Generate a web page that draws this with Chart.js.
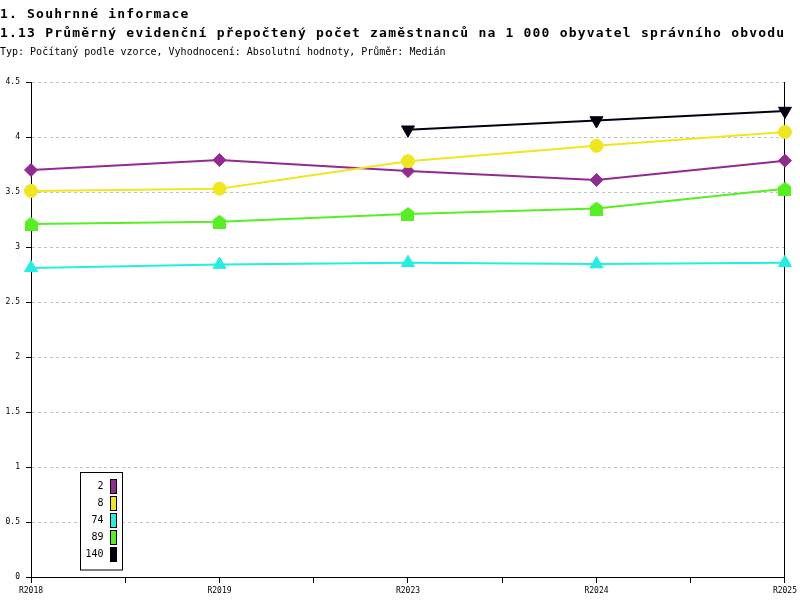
<!DOCTYPE html>
<html><head><meta charset="utf-8">
<script src="https://cdn.jsdelivr.net/npm/chart.js@4.4.1/dist/chart.umd.min.js"></script>
<style>html,body{margin:0;padding:0;background:#fff}#wrap{width:800px;height:600px;position:relative}</style>
</head><body><div id="wrap"><canvas id="c" width="800" height="600"></canvas></div>
<script>
const titleLines = ['1. Souhrnné informace', '1.13 Průměrný evidenční přepočtený počet zaměstnanců na 1 000 obyvatel správního obvodu'];
const subtitleText = 'Typ: Počítaný podle vzorce, Vyhodnocení: Absolutní hodnoty, Průměr: Medián';
const categories = ['R2018', 'R2019', 'R2023', 'R2024', 'R2025'];
const seriesLabels = ['2', '8', '74', '89', '140'];
const values2 = [3.70, 3.79, 3.69, 3.61, 3.785];
const values8 = [3.51, 3.53, 3.78, 3.92, 4.045];
const values74 = [2.81, 2.84, 2.857, 2.845, 2.857];
const values89 = [3.21, 3.23, 3.30, 3.35, 3.53];
const values140 = [null, null, 4.066, 4.15, 4.236];
const seriesColors = ['#912a91', '#f0e61e', '#22eee2', '#55ef22', '#000010'];

function houseMarker(color) {
  const c = document.createElement('canvas');
  c.width = 13; c.height = 14;
  const g = c.getContext('2d');
  g.fillStyle = color;
  g.beginPath();
  g.moveTo(6.5, 0); g.lineTo(13, 5); g.lineTo(13, 14); g.lineTo(0, 14); g.lineTo(0, 5); g.closePath();
  g.fill();
  return c;
}

const allValues = [values2, values8, values74, values89, values140];
const pointStyles = ['rectRot', 'circle', 'triangle', houseMarker(seriesColors[3]), 'triangle'];
const rotations = [0, 0, 0, 0, 180];
const radii = [6.5, 6.5, 7.5, 6.5, 7.5];

const datasets = allValues.map((vals, i) => ({
  label: seriesLabels[i],
  data: vals.map((v, j) => ({ x: j, y: v })),
  borderColor: seriesColors[i],
  backgroundColor: seriesColors[i],
  pointBackgroundColor: seriesColors[i],
  pointBorderColor: seriesColors[i],
  pointBorderWidth: 1,
  borderWidth: 2,
  tension: 0,
  pointStyle: pointStyles[i],
  pointRotation: rotations[i],
  pointRadius: radii[i],
  pointHoverRadius: radii[i],
  clip: false,
  order: -i
}));

const overlay = {
  id: 'overlay',
  afterDraw(chart) {
    const ctx = chart.ctx;
    ctx.save();
    ctx.fillStyle = '#000';
    ctx.textAlign = 'left';
    ctx.textBaseline = 'alphabetic';
    ctx.font = 'bold 13px "DejaVu Sans Mono"';
    if ('letterSpacing' in ctx) ctx.letterSpacing = '1.2px';
    ctx.fillText(titleLines[0], 0, 18);
    ctx.fillText(titleLines[1], 0, 37);
    if ('letterSpacing' in ctx) ctx.letterSpacing = '0px';
    ctx.font = '10px "DejaVu Sans Mono"';
    ctx.fillText(subtitleText, 0, 55);

    // legend box
    ctx.fillStyle = '#fff';
    ctx.fillRect(80.5, 472.5, 42, 97.5);
    ctx.strokeStyle = '#000';
    ctx.lineWidth = 1;
    ctx.strokeRect(80.5, 472.5, 42, 97.5);
    ctx.font = '10px "DejaVu Sans Mono"';
    ctx.textAlign = 'right';
    ctx.textBaseline = 'middle';
    seriesLabels.forEach((lab, i) => {
      const cy = 486.5 + i * 17;
      ctx.fillStyle = '#000';
      ctx.fillText(lab, 103.5, cy);
      ctx.fillStyle = seriesColors[i];
      ctx.fillRect(110, cy - 7.5, 7, 15);
      ctx.strokeStyle = '#000';
      ctx.strokeRect(110.5, cy - 7, 6, 14);
    });
    ctx.restore();
  }
};

new Chart(document.getElementById('c'), {
  type: 'line',
  data: { datasets },
  plugins: [overlay],
  options: {
    responsive: false,
    animation: false,
    devicePixelRatio: 1,
    layout: { padding: { top: 82, right: 15, left: 0, bottom: 0 } },
    plugins: { legend: { display: false }, tooltip: { enabled: false }, title: { display: false } },
    scales: {
      x: {
        type: 'linear', min: 0, max: 4,
        afterFit(s) { s.height = 23; },
        ticks: {
          stepSize: 0.5, autoSkip: false, maxRotation: 0, minRotation: 0, padding: 3, color: '#000',
          font: { family: 'DejaVu Sans Mono', size: 8 },
          callback: (v) => Number.isInteger(v) ? categories[v] : ''
        },
        grid: { drawOnChartArea: false, drawTicks: true, tickLength: 6, tickColor: '#000', color: '#000' },
        border: { color: '#000', width: 1 }
      },
      y: {
        min: 0, max: 4.5,
        afterFit(s) { s.width = 31; },
        ticks: { stepSize: 0.5, padding: 6, color: '#000', font: { family: 'DejaVu Sans Mono', size: 8 },
          callback: (v) => String(v) },
        grid: { color: '#c0c0c0', tickColor: '#000', tickLength: 5, lineWidth: 1 },
        border: { color: '#000', width: 1, dash: [3, 3] }
      },
      y2: {
        position: 'right', min: 0, max: 4.5,
        afterFit(s) { s.width = 0; },
        ticks: { display: false },
        grid: { display: false, drawTicks: false },
        border: { color: '#000', width: 1 }
      }
    }
  }
});
</script>
</body></html>
